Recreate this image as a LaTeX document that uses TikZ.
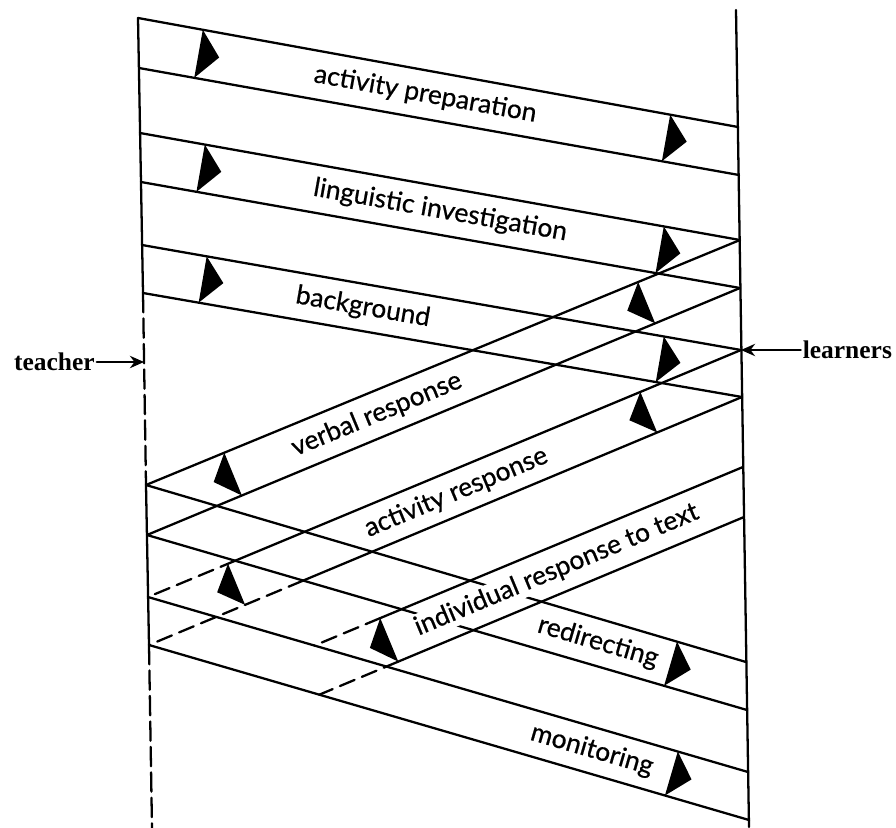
\documentclass[tikz,border=0pt]{standalone}
\usepackage{fontspec}
\setmainfont{Liberation Serif}
\newfontfamily\bandfont[FakeBold=0.6]{Lato}
\usetikzlibrary{calc,arrows.meta}
% filled arrowhead across a band: name, line on the left of travel (from,to), other line (from,to), fraction
\newcommand{\arrowtri}[6]{%
\coordinate (#1a) at ($(#2)!#6!(#3)$);\coordinate (#1b) at ($(#4)!(#1a)!(#5)$);\coordinate (#1m) at ($(#1a)!.5!(#1b)$);
\fill (#1a)--($(#1m)!0.42cm!-90:(#1a)$)--(#1b)--cycle;}

\begin{document}
\begin{tikzpicture}[x=0.02cm,y=-0.02cm,line cap=round,line join=round,
  band/.style={line width=1.3pt},brk/.style={band,dash pattern=on 9pt off 4.5pt},vbrk/.style={band,dash pattern=on 11pt off 3.5pt},
  lbl/.style={font=\bandfont\fontsize{15}{18}\selectfont,sloped,fill=white,inner sep=1pt},
  side/.style={font=\bfseries\fontsize{14.5}{17}\selectfont,inner sep=1pt},
  pointer/.style={line width=1.4pt,-{Stealth[length=8pt,width=7pt]}}]
\useasboundingbox (0,0) rectangle (896,828);
% teacher side
\coordinate (t1) at (138,18);\coordinate (t2) at (139,68);\coordinate (t3) at (140,133);\coordinate (t4) at (141,182);\coordinate (t5) at (142,245);
\coordinate (t6) at (143,293);\coordinate (t7) at (146,485);\coordinate (t8) at (147,535);\coordinate (t9) at (148,597);\coordinate (t10) at (149,645);
\coordinate (tb) at (152,828);\coordinate (tp) at (144,362);
% learners side
\coordinate (l0) at (736,10);\coordinate (l1) at (738,127);\coordinate (l2) at (739,175);\coordinate (l3) at (740,240);\coordinate (l4) at (740,288);
\coordinate (l5) at (741,350);\coordinate (l6) at (742,397);\coordinate (l7) at (743,467);\coordinate (l8) at (744,517);\coordinate (l9) at (746,662);
\coordinate (l10) at (747,710);\coordinate (l11) at (748,772);\coordinate (l12) at (749,820);\coordinate (lb) at (749,827);
\draw[band] (t1)--(t6);\draw[vbrk] (t6)--(t7);\draw[band] (t7)--(t10);\draw[vbrk] (t10)--(tb);\draw[band] (l0)--(lb);
% teacher to learners
\draw[band] (t1)--(l1) (t2)--(l2) (t3)--(l3) (t4)--(l4) (t5)--(l5) (t6)--(l6);
\draw[band] (t7)--(l9) (t8)--(l10) (t9)--(l11) (t10)--(l12);
% learners to teacher
\draw[band] (l3)--(t7) (l4)--(t8);
\coordinate (ar1) at (intersection of l5--t9 and t8--l10);\coordinate (ar2) at (intersection of l6--t10 and t8--l10);
\draw[band] (l5)--(ar1) (l6)--(ar2);\draw[brk] (ar1)--(t9);\draw[brk] (ar2)--(t10);
\coordinate (i1) at ($(l7)+(t9)-(l5)$);\coordinate (i2) at ($(l8)+(t10)-(l6)$);
\coordinate (ie1) at (intersection of l7--i1 and t9--l11);\coordinate (ie2) at (intersection of l8--i2 and t10--l12);
\arrowtri{ir}{l8}{i2}{l7}{i1}{0.583}
\draw[band] (l7)--(irb) (l8)--(ira);\draw[brk] (irb)--(ie1);\draw[brk] (ira)--(ie2);
% arrowheads
\arrowtri{pa}{t1}{l1}{t2}{l2}{0.108}\arrowtri{pb}{t1}{l1}{t2}{l2}{0.887}
\arrowtri{la}{t3}{l3}{t4}{l4}{0.108}\arrowtri{lb}{t3}{l3}{t4}{l4}{0.873}
\arrowtri{ba}{t5}{l5}{t6}{l6}{0.108}\arrowtri{bb}{t5}{l5}{t6}{l6}{0.871}
\arrowtri{va}{l4}{t8}{l3}{t7}{0.143}\arrowtri{vb}{l4}{t8}{l3}{t7}{0.84}
\arrowtri{aa}{l6}{t10}{l5}{t9}{0.143}\arrowtri{ab}{l6}{t10}{l5}{t9}{0.838}
\arrowtri{ra}{t7}{l9}{t8}{l10}{0.885}\arrowtri{ma}{t9}{l11}{t10}{l12}{0.883}
% labels
\path ($(t1)!.5!(t2)$)--($(l1)!.5!(l2)$) node[lbl,pos=.478] (prep) {activity preparation};
\path ($(t3)!.5!(t4)$)--($(l3)!.5!(l4)$) node[lbl,pos=.5] (ling) {linguistic investigation};
\path ($(t5)!.5!(t6)$)--($(l5)!.5!(l6)$) node[lbl,pos=.368] (back) {background};
\path ($(t7)!.5!(t8)$)--($(l3)!.5!(l4)$) node[lbl,pos=.388] (verb) {verbal response};
\path ($(t9)!.5!(t10)$)--($(l5)!.5!(l6)$) node[lbl,pos=.519] (act) {activity response};
\path ($(i1)!.5!(i2)$)--($(l7)!.5!(l8)$) node[lbl,pos=.685] (indiv) {individual response to text};
\path ($(t7)!.5!(t8)$)--($(l9)!.5!(l10)$) node[lbl,pos=.7525] (redir) {redirecting};
\path ($(t9)!.5!(t10)$)--($(l11)!.5!(l12)$) node[lbl,pos=.739] (monit) {monitoring};
\node[side,anchor=west] (teacher) at (12,362) {teacher};\draw[pointer] (teacher.east)--(tp);
\node[side,anchor=east] (learners) at (894,350) {learners};\draw[pointer] (learners.west)--(l5);
\end{tikzpicture}
\end{document}
